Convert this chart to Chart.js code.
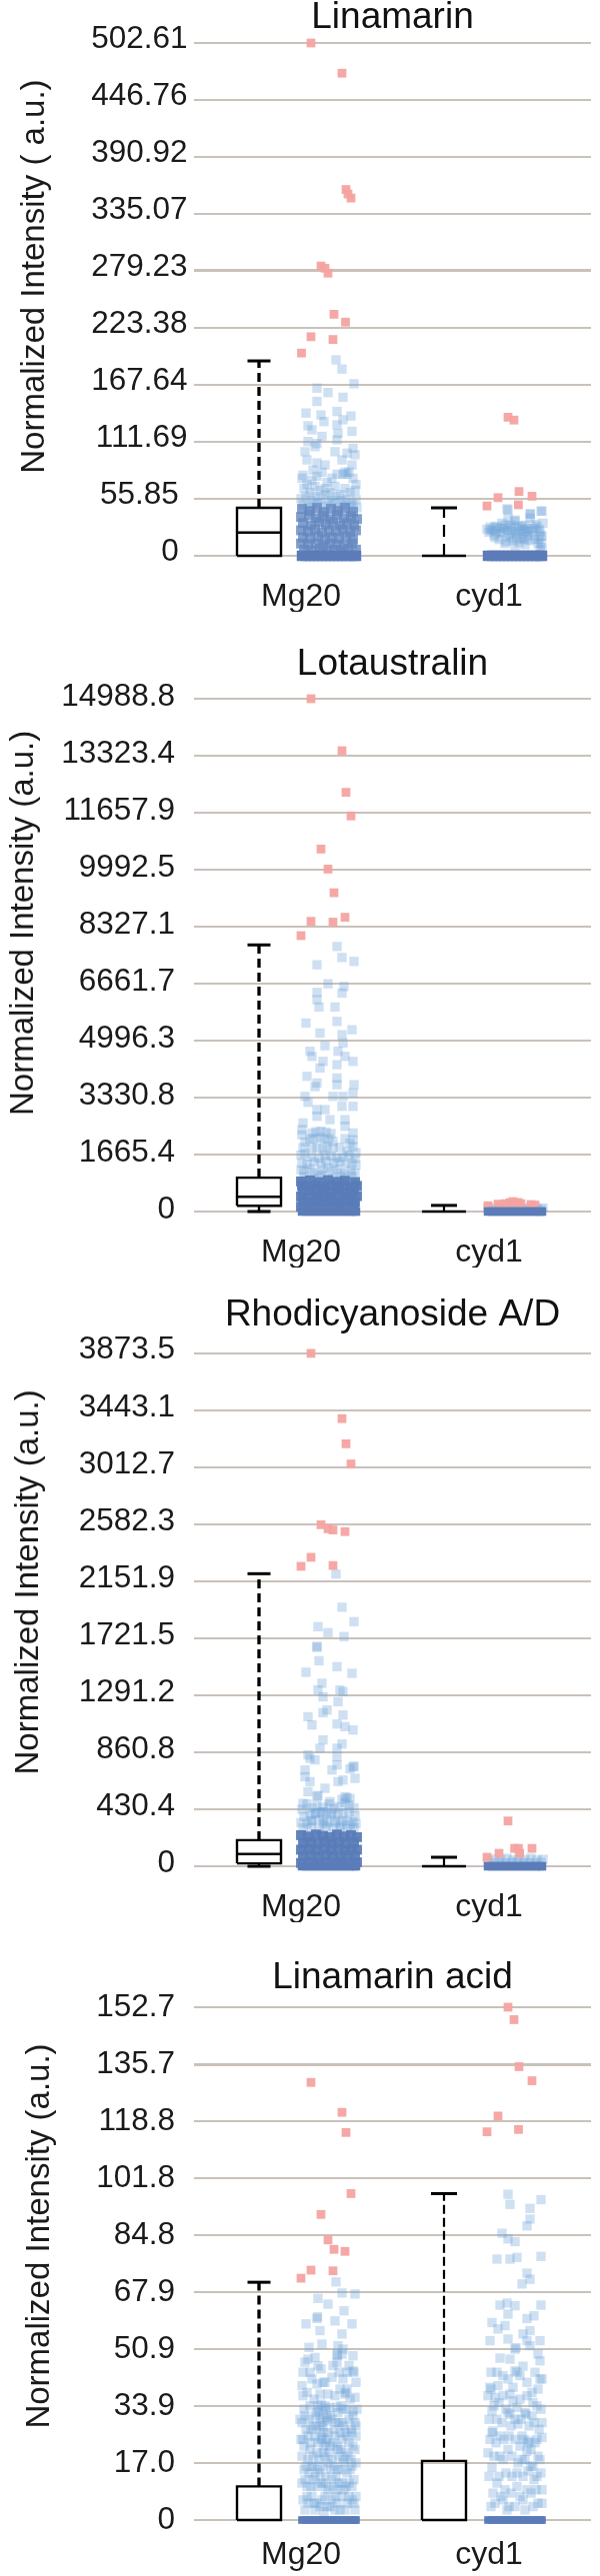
<!DOCTYPE html>
<html>
<head>
<meta charset="utf-8">
<style>
  html, body { margin: 0; padding: 0; background: #fff; }
  #page { position: relative; width: 600px; height: 2577px; overflow: hidden; }
  canvas { position: absolute; left: 0; filter: blur(0.7px); }
</style>
</head>
<body>
<div id="page"></div>
<script src="https://cdn.jsdelivr.net/npm/chart.js@4/dist/chart.umd.min.js"></script>
<script>
// x offsets of the points sitting on zero, same for every group
const zeroOffsets = [-27, -23, -19, -15, -11, -7, -3, 1, 5, 9, 13, 17, 21, 25, 27];
const categories = ['Mg20', 'cyd1'];

// [q1, median, q3, lower whisker, upper whisker] for Mg20 and cyd1
const linamarinStats = [[0, 22.8, 47, 0, 191], [0, 0, 0, 0, 47]];
const lotaustralinStats = [[167, 430, 990, 0, 7793], [0, 0, 0, 0, 179]];
const rhodicyanosideStats = [[22, 92, 197, 0, 2209], [0, 0, 0, 0, 68]];
const linamarinAcidStats = [[0, 0, 10, 0, 70.8], [0, 0, 17.6, 0, 97.2]];

const linamarinTicks = ['0 ', '55.85 ', '111.69', '167.64', '223.38', '279.23', '335.07', '390.92', '446.76', '502.61'];
const lotaustralinTicks = ['0', '1665.4', '3330.8', '4996.3', '6661.7', '8327.1', '9992.5', '11657.9', '13323.4', '14988.8'];
const rhodicyanosideTicks = ['0', '430.4', '860.8', '1291.2', '1721.5', '2151.9', '2582.3', '3012.7', '3443.1', '3873.5'];
const linamarinAcidTicks = ['0', '17.0', '33.9', '50.9', '67.9', '84.8', '101.8', '118.8', '135.7', '152.7'];

// outliers, [x offset, value]
const linamarinOutMg20 = [[-18,502.6],[13,473],[17,359],[19,354.6],[22,350.6],[-8,284],[-4,281.9],[-1,277],[5,236.7],[16.5,229],[-18,214.7],[4,212],[-27.5,198.7]];
const linamarinOutCyd1 = [[-7,135.8],[-1,133],[4,63],[-17,57],[17,58.4],[-28,48.8],[3.4,50]];
const lotaustralinOutMg20 = [[-18,14988],[13,13470],[17,12253],[22,11563],[-8,10595],[-1,10010],[5,9318],[16,8602],[-18,8483],[4,8459],[-28,8065]];
const lotaustralinOutCyd1 = [[-27,170],[-17,215],[-10,230],[-5,260],[-2,290],[3,265],[6,230],[16,205],[20,190]];
const rhodicyanosideOutMg20 = [[-18,3873],[13,3380],[17,3190],[22,3038],[-8,2579],[-1,2548],[4,2539],[16,2527],[-18,2333],[4,2271],[-28,2265]];
const rhodicyanosideOutCyd1 = [[-7,342],[3.4,135],[-0.4,135],[17,135],[-16,98],[4.6,98],[-28,68]];
const linamarinAcidOutMg20 = [[-18,130.3],[13,121.4],[17,115.4],[22,97.2],[-8,91],[-1,83.4],[5,80.6],[16,80],[-18,74.4],[4,74.2],[-28,72]];
const linamarinAcidOutCyd1 = [[-7,152.7],[-1,149],[4,135],[17,130.8],[-17,120.3],[-28,115.6],[3.5,116.3]];

// light scattered points, [x offset, value]
const linamarinMg20 = [[7,192],[13,183],[25,168.6],[-12,164.4],[-1,160],[14,155.4],[-12,151.3],[-23,139.9],[8,141.5],[-8,138],[22,137],[-5,131.6],[14,133.3],[-21,127.4],[8,128.4],[-17,123.5],[23,122],[9,120],[-7,117],[-21,112],[-12,110],[8,113.6],[24,105.4],[-24,102],[-14,107],[6,102],[18,100.6],[26,99],[-22,94],[13,94],[-4,89],[-12,91],[23,89],[-26,79],[16,82],[18,80],[20,82],[14,80],[-16,84],
  [-27,76],[-22,70],[-17,74],[-12,78],[-7,82],[-2,72],[3,76],[8,80],[24,76],[27,70],[-25,66],[-19,62],[-14,68],[-9,64],[-4,66],[1,62],[6,68],[11,60],[16,66],[21,62],[26,64],[-28,56],[-23,58],[-18,54],[-13,58],[-8,56],[-3,60],[2,54],[7,58],[12,54],[17,56],[22,52],[27,55],[-26,50],[-21,48],[-16,50],[-11,52],[-6,48],[-1,50],[4,52],[9,48],[14,50],[19,48],[24,50],[28,47]];
const linamarinMg20Core = [[-27,46],[-19,44],[-12,47],[-5,43],[2,46],[9,44],[16,47],[24,43],[-28,38],[-20,40],[-13,37],[-6,39],[1,36],[8,40],[15,37],[22,39],[28,36],[-26,32],[-18,30],[-10,33],[-3,31],[4,33],[11,30],[18,32],[25,30],[-28,25],[-21,24],[-14,26],[-7,23],[0,25],[7,24],[14,26],[21,23],[27,25],[-26,18],[-19,17],[-11,19],[-4,16],[3,18],[10,17],[17,19],[24,16],[-28,12],[-21,11],[-13,12],[-6,10],[1,12],[8,11],[15,10],[23,12],[-25,6],[-17,5],[-9,7],[-2,5],[5,6],[12,5],[19,7],[27,6]];
const linamarinCyd1 = [[-7,45],[27,43.6],[15,41],[0,35],[-7,37],[15,37],[28,32],[-20,29],[-13,32],[7,29],[20,31],[-8,46],[15.5,41],[26,44],[-25,28],[-18,28],[-10,30],[0,34],[-22,26],[-15,27],[-6,28],[-3,24],[3,29],[6,26],[10,30],[13,27],[17,25],[22,29],[-28,26],[-12,23],[-4,20],[1,22],[8,21],[12,19],[18,20],[25,24],[27,19],[24,16],[26,12],[27,8],[-20,18],[-16,16],[-9,14],[-2,15],[4,13],[9,16],[25,6],
  [-24,25],[-19,24],[-14,22],[-8,25],[-1,27],[4,24],[9,26],[14,24],[19,27],[24,26],[-26,23],[-11,27],[-4,30],[11,24],[-21,20],[-6,18],[2,18],[6,17],[14,15],[20,16],[26,20],[23,12],[0,10],[-10,12],[10,11]];

const lotaustralinMg20 = [[8,7747],[13,7426],[25,7310],[-12,7212],[-1,6657],[15,6580],[13,6386],[-12,6404],[-12,6190],[-10,5977],[6,5977],[-23,5510],[8,5558],[23,5314],[-9,5218],[13,5168],[-4,4847],[-19,4682],[9,4682],[14,4926],[-17,4536],[16,4536],[24,4390],[-6,4390],[-9,4196],[8,4292],[-22,3952],[8,3903],[-12,3757],[8,3708],[25,3708],[-14,3650],[24,3466],[-24,3367],[4,3367],[14,3367],[-21,3192],[-4,2978],[-12,2978],[13,3075],[24,3075],[16,2686],[-26,2590],[1,2686],[16,2491],[-12,2783],[-27,2394],[24,2298],
  [-27,2240],[-24,2030],[-26,1870],[-17,2290],[-13,2330],[-8,2350],[-3,2320],[2,2280],[-19,2130],[-15,2120],[-9,2160],[-5,2100],[0,2130],[4,2050],[16,2130],[21,2000],[24,2100],[-17,1870],[-12,1850],[-6,1820],[-2,1900],[4,1840],[11,1880],[18,1750],[24,1900],[27,1720],[-28,1650],[-24,1700],[-18,1600],[-10,1560],[-4,1650],[2,1620],[8,1560],[14,1600],[20,1650],[26,1550],[-27,1420],[-22,1380],[-15,1450],[-8,1400],[-3,1480],[5,1420],[11,1460],[17,1380],[23,1430],[27,1360],
  [-25,1180],[-15,1150],[-6,1210],[3,1170],[12,1130],[22,1190],[-28,1220],[-19,1250],[-10,1100],[-1,1280],[8,1240],[16,1090],[26,1120],[-25,1020],[-16,980],[-7,1040],[4,990],[13,1010],[23,1030]];
const lotaustralinMg20Core = [[-28,880],[-19,910],[-10,860],[-1,920],[8,870],[16,900],[26,860],[-27,750],[-20,730],[-13,770],[-6,720],[1,760],[8,730],[15,770],[22,720],[28,750],[-26,590],[-19,610],[-11,570],[-4,600],[3,580],[10,610],[18,570],[25,600],[-28,440],[-21,420],[-13,450],[-6,430],[1,420],[8,450],[15,430],[23,420],[28,450],[-26,290],[-18,270],[-10,300],[-3,280],[4,290],[11,270],[19,300],[26,280],[-28,140],[-20,130],[-12,150],[-5,130],[3,140],[10,150],[17,130],[25,140]];
const lotaustralinCyd1 = [[-27,90],[-20,110],[-14,100],[-8,120],[-2,95],[4,115],[10,100],[16,120],[22,95],[28,105],[-24,50],[-16,60],[-10,45],[-4,55],[2,60],[8,50],[14,55],[20,45],[26,60]];

const rhodicyanosideMg20 = [[7,2207],[13,1956],[25,1847],[-11,1809],[-1,1764],[15,1734],[-12,1653],[-12,1660],[-10,1552],[-23,1465],[8,1507],[23,1457],[-7,1382],[-11,1331],[14,1318],[-6,1280],[11,1331],[9,1243],[-2,1180],[-6,1160],[-21,1129],[-17,1067],[8,1074],[14,1142],[16,1054],[24,1029],[-6,954],[-9,891],[13,923],[8,891],[-21,840],[-14,803],[-19,815],[8,827],[8,765],[-24,727],[24,750],[25,755],[21,735],[3,727],[-24,676],[-19,639],[14,651],[9,639],[26,664],[-4,589],[-21,563],[-12,528],[-11,534],[16,525],[18,518],[21,512],[13,505],[-26,475],[1,488],
  [-27,430],[-22,470],[-17,440],[-12,460],[-6,445],[0,470],[5,435],[10,450],[16,480],[20,460],[25,440],[-25,375],[-19,390],[-13,400],[-8,410],[-3,395],[3,405],[9,390],[14,400],[20,410],[26,380],[-28,330],[-17,345],[-6,340],[6,330],[18,345],[27,320],
  [-14,400],[-6,410],[2,395],[-18,340],[-10,350],[-2,335],[6,345],[14,340],[24,335],[-26,290],[-18,295],[-10,280],[-3,300],[4,285],[11,295],[18,280],[25,290],[-22,320],[-5,320],[12,315],[21,310]];
const rhodicyanosideMg20Core = [[-28,235],[-21,225],[-13,240],[-6,230],[1,220],[8,240],[15,225],[22,235],[28,220],[-26,175],[-18,180],[-11,170],[-4,185],[3,175],[10,180],[17,170],[25,180],[-28,125],[-20,130],[-13,120],[-5,135],[2,125],[9,130],[16,120],[23,130],[28,125],[-26,75],[-18,80],[-10,70],[-3,80],[4,75],[11,70],[19,80],[26,75],[-28,25],[-20,30],[-12,25],[-4,30],[4,25],[12,30],[20,25],[28,30]];
const rhodicyanosideCyd1 = [[-27,45],[-20,55],[-14,50],[-8,60],[-2,48],[4,58],[10,50],[16,60],[22,48],[28,52],[-24,25],[-16,30],[-10,22],[-4,28],[2,30],[8,25],[14,28],[20,22],[26,30]];

const linamarinAcidMg20 = [[7,70.9],[13,67.6],[26,67.3],[-11,66],[-1,64.3],[15,62.3],[-12,60],[-11.5,60.5],[6,59.3],[-23,58.4],[23,58.4],[-9,56.4],[13,55.4],[-7,52.4],[-20,51.4],[9,51.9],[14,50.9],[8,49.4],[8.5,49],[13,49.4],[-21,47.9],[-14,48.4],[24,48.9],[8,46.9],[-11,45.9],[-26,44],[24,44.4],[25,44],[18,44],[14,42],[-19,44],[-12,40.5],[-4,41],[3,42.5],[-26,37],[-9,37.5],[-1,37.5],[16,37.5],[16.5,38],[18,39],[26,36.5],[11,39],
  [-11,34],[-8,34.5],[-4,34],[0,33.5],[-10,32.5],[-6,31.5],[-2,30.5],[24,32.5],[18,33],[8,33.6],[-29,30],[-24,31],[-2,29.5],
  [-27,29],[-20,30],[-16,28],[-12,32],[-9,30],[-6,28],[1,31],[5,27],[9,32],[13,29],[16,26],[20,30],[24,31],[27,28],[-28,24],[-25,22],[-21,25],[-18,23],[-14,25],[-11,23],[-8,24],[-5,22],[-2,24],[1,22],[6,25],[9,21],[13,24],[17,20],[20,23],[24,22],[27,25],[-9,27],[-5,26],[-1,26],[-7,24.5],[-3,23],[-27,19],[-21,18],[-16,19],[-10,18],[-4,19],[3,18],[10,19],[15,17],[22,18],
  [-25,15],[-20,14],[-15,16],[-9,14],[-3,13],[2,15],[7,13],[12,15],[18,14],[23,16],[-27,11],[-22,10],[-16,12],[-12,10],[-6,11],[-1,9],[5,10],[10,11],[15,9],[20,11],[25,12],[-26,6],[-21,5],[-17,7],[-12,5],[-7,6],[-2,4],[3,6],[8,5],[13,7],[18,5],[23,6],[-24,3],[-14,3],[-5,2.5],[6,3],[16,3],[26,3],
  [-24,47],[-17,42],[-8,45],[4,46],[10,44],[20,46],[27,41],[-27,40],[-22,38],[-15,36],[-6,41],[6,37],[12,34],[21,36],[28,33],[-25,33],[-19,34],[-14,31],[-3,33],[3,30],[10,29],[14,33],[22,27],[26,29],[-23,27],[-18,27],[-13,28],[-7,29],[7,29],[11,26],[15,28],[18,25],[23,26],[-26,24],[-19,21],[-12,20],[-6,20],[0,20],[4,23],[8,22],[12,21],[19,19],[26,21],[-23,16],[-17,16],[-11,15],[-6,16],[-1,17],[5,16],[9,15],[14,18],[21,15],[27,17],[-24,12],[-18,10],[-14,13],[-8,11],[-3,10],[3,12],[8,9],[13,11],[17,10],[23,10],[27,7],[-22,7],[-15,5],[-9,4],[-4,7],[1,4],[6,7],[11,3],[20,7],[25,5]];
const linamarinAcidCyd1 = [[-7,97],[-5,94],[26,95.4],[15,92.8],[15,89.6],[12,87.6],[-13,85.4],[-7,83.7],[0,82.9],[-18,77.7],[-5,77.7],[2,78.2],[26,78.5],[12,73.5],[15,71.7],[7,70.3],[-15,64],[0,63.8],[-8,64.6],[26,64],[-7,61.3],[12,60],[19,60.8],[-23,58.8],[-10,57.9],[-17,56.9],[15,56.4],[8,55.4],[-25,53.4],[-7,53.9],[12,53.4],[25,53.4],[0,50.9],[1,51.3],[15,51.9],[23,49.4],[25,47.4],[-15,48.2],[-5,47.9],[-18,44],[0,44.4],[2,44],[8,45.8],[25,42],[-25,39.5],[-24,39],[-17,40],[-2,39.5],[-5,37.5],[-27,37],[-20,36.5],[17,38],[23,39],[-2,35.5],[18,35],[-23,32.5],[-7,32],[-5,31.5],[2,33.5],[10,32],[11,31.5],[17,31],[27,29],[-23,26],[-22,26.5],[-15,25],[3,28.6],[7,25],[13,23],[14,23.5],[20,23],[12,20.5],[27,24.6],[-27,20],[-15,19],[-7,21],[23,19],[-23,15.7],[7,18],[18,16],[-3,13],[13,14.6],[22,13],[-18,11],[-10,9],[-14,7],[-20,5],[2,10],[8,6],[16,8],[23,5],[27,9],[-6,4],
  [-24,44],[-12,43],[-7,42],[5,43],[12,41],[20,44],[27,42],[-21,34],[-16,35],[-12,37],[-9,33],[5,36],[12,37],[22,34],[26,33],[-26,30],[-18,30],[-13,29],[-4,28],[0,30],[6,30],[14,28],[19,29],[24,27],[-25,24],[-19,23],[-11,24],[-6,25],[0,24],[5,22],[9,24],[16,21],[22,24],[-21,19],[-12,18],[-3,19],[3,17],[10,18],[16,16],[25,18],[-26,13],[-16,13],[-9,14],[2,14],[8,13],[19,12],[26,14],[-22,8],[-12,6],[-4,8],[5,7],[12,9],[21,9],[27,5],[-24,4],[-8,3],[0,4],[10,3],[18,4]];

const panels = [
  { top: -4, height: 616, titleGap: 2.6, title: 'Linamarin', yTitle: 'Normalized Intensity ( a.u.)', yShift: 5, yTitlePad: 15, labels: linamarinTicks, labelPad: 6.5, labelOffset: -4, thick: 279.23, xPad: 14,
    stats: linamarinStats, outMg20: linamarinOutMg20, outCyd1: linamarinOutCyd1, mg20: linamarinMg20, core: linamarinMg20Core, cyd1: linamarinCyd1, bandSize: 7.4, cyd1Dash: [12, 7], coreColor: 'rgba(100,136,192,0.8)' },
  { top: 643, height: 625, titleGap: 11.6, title: 'Lotaustralin', yTitle: 'Normalized Intensity (a.u.)', yShift: 7, yTitlePad: 4, labels: lotaustralinTicks, labelPad: 19, labelOffset: -2, thick: -1, xPad: 14,
    stats: lotaustralinStats, outMg20: lotaustralinOutMg20, outCyd1: lotaustralinOutCyd1, mg20: lotaustralinMg20, core: lotaustralinMg20Core, cyd1: lotaustralinCyd1, bandSize: 6, cyd1Dash: [12, 7], coreColor: 'rgba(90,124,184,0.95)' },
  { top: 1293.5, height: 629, titleGap: 15.4, title: 'Rhodicyanoside A/D', yTitle: 'Normalized Intensity (a.u.)', yShift: 6, yTitlePad: 9, labels: rhodicyanosideTicks, labelPad: 19, labelOffset: -3, thick: -1, xPad: 14,
    stats: rhodicyanosideStats, outMg20: rhodicyanosideOutMg20, outCyd1: rhodicyanosideOutCyd1, mg20: rhodicyanosideMg20, core: rhodicyanosideMg20Core, cyd1: rhodicyanosideCyd1, bandSize: 6, cyd1Dash: [12, 7], coreColor: 'rgba(90,124,184,0.95)' },
  { top: 1957, height: 620, titleGap: 6.6, title: 'Linamarin acid', yTitle: 'Normalized Intensity (a.u.)', yShift: 6, yTitlePad: 20, labels: linamarinAcidTicks, labelPad: 19, labelOffset: 0, thick: 135.7, xPad: 8,
    stats: linamarinAcidStats, outMg20: linamarinAcidOutMg20, outCyd1: linamarinAcidOutCyd1, mg20: linamarinAcidMg20, core: [], cyd1: linamarinAcidCyd1, bandSize: 5.4, cyd1Dash: [9, 4], coreColor: 'rgba(90,124,184,0.5)' }
];

// x scale runs 0..397, one unit is one pixel of the plot
const boxCenters = [65, 250];
const capHalves = [11.5, 13];
const swarmCenters = [135, 321];
const labelCenters = [107, 295];

function shifted(points, center) {
  return points.map(function (p) { return { x: center + p[0], y: p[1] }; });
}

function points(data, color, radius) {
  return { data: data, pointStyle: 'rect', pointRadius: radius, pointBackgroundColor: color, pointBorderWidth: 0, showLine: false, clip: false };
}

function line(data, width, dash) {
  return { data: data, showLine: true, borderColor: '#000', borderWidth: width, borderDash: dash || [], pointRadius: 0, tension: 0, clip: false };
}

function boxDatasets(i, s, dash, dashWidth) {
  const c = boxCenters[i], h = 22, cap = capHalves[i];
  const q1 = s[0], med = s[1], q3 = s[2], lo = s[3], hi = s[4];
  const out = [
    line([{x: c-h, y: q1}, {x: c+h, y: q1}, {x: c+h, y: q3}, {x: c-h, y: q3}, {x: c-h, y: q1}], 2.4),
    line([{x: c, y: q3}, {x: c, y: hi}], dashWidth, dash),
    line([{x: c-cap, y: hi}, {x: c+cap, y: hi}], 3)
  ];
  if (med > q1) out.push(line([{x: c-h, y: med}, {x: c+h, y: med}], 2.4));
  if (q1 > lo) {
    out.push(line([{x: c, y: q1}, {x: c, y: lo}], 2.4));
    out.push(line([{x: c-cap, y: lo}, {x: c+cap, y: lo}], 3));
  }
  return out;
}

const page = document.getElementById('page');

panels.forEach(function (p) {
  const canvas = document.createElement('canvas');
  canvas.width = 600;
  canvas.height = p.height;
  canvas.style.top = p.top + 'px';
  page.appendChild(canvas);

  const tickValues = p.labels.map(Number);
  const zeroRow = zeroOffsets.map(function (o) { return [o, 0]; });
  const light = 'rgba(112,163,218,0.34)', pink = 'rgba(244,163,160,0.95)', band = '#5b7cb8';

  new Chart(canvas, {
    type: 'scatter',
    data: {
      datasets: [].concat(
        boxDatasets(0, p.stats[0], [9, 5], 3.3),
        boxDatasets(1, p.stats[1], p.cyd1Dash, 2.2),
        [
          points(shifted(zeroRow, swarmCenters[0]), band, p.bandSize),
          points(shifted(zeroRow, swarmCenters[1]), band, p.bandSize),
          points(shifted(p.outMg20, swarmCenters[0]), pink, 6.2),
          points(shifted(p.outCyd1, swarmCenters[1]), pink, 6.2),
          points(shifted(p.core, swarmCenters[0]), p.coreColor, 7),
          points(shifted(p.mg20, swarmCenters[0]), light, 6.6),
          points(shifted(p.cyd1, swarmCenters[1]), light, 6.6)
        ]
      )
    },
    options: {
      responsive: false,
      animation: false,
      layout: { padding: { right: 9 } },
      plugins: {
        legend: { display: false },
        tooltip: { enabled: false },
        title: {
          display: true,
          fullSize: false,
          text: p.title,
          color: '#111',
          font: { family: 'Liberation Sans', size: 37, weight: 'normal' },
          padding: { top: 0, bottom: p.titleGap }
        }
      },
      scales: {
        x: {
          type: 'linear',
          min: 0,
          max: 397,
          grid: { display: false },
          border: { display: false },
          afterBuildTicks: function (s) { s.ticks = labelCenters.map(function (v) { return { value: v }; }); },
          afterFit: function (s) { s.height = 56; },
          ticks: {
            autoSkip: false,
            maxRotation: 0,
            padding: p.xPad,
            color: '#1a1a1a',
            font: { family: 'Liberation Sans', size: 32 },
            callback: function (v, i) { return categories[i]; }
          }
        },
        y: {
          min: 0,
          max: tickValues[tickValues.length - 1],
          border: { display: false },
          afterBuildTicks: function (s) { s.ticks = tickValues.map(function (v) { return { value: v }; }); },
          afterFit: function (s) { s.width = 194; },
          grid: {
            color: '#c9c2bb',
            drawTicks: false,
            lineWidth: tickValues.map(function (v) { return v === p.thick ? 3 : 2; })
          },
          title: {
            display: true,
            text: ' '.repeat(p.yShift) + p.yTitle,
            color: '#1a1a1a',
            font: { family: 'Liberation Sans', size: 33 },
            padding: { top: p.yTitlePad, bottom: 0 }
          },
          ticks: {
            autoSkip: false,
            padding: p.labelPad,
            labelOffset: p.labelOffset,
            color: '#1a1a1a',
            font: { family: 'Liberation Sans', size: 31.5 },
            callback: function (v, i) { return p.labels[i]; }
          }
        }
      }
    }
  });
});
</script>
</body>
</html>
